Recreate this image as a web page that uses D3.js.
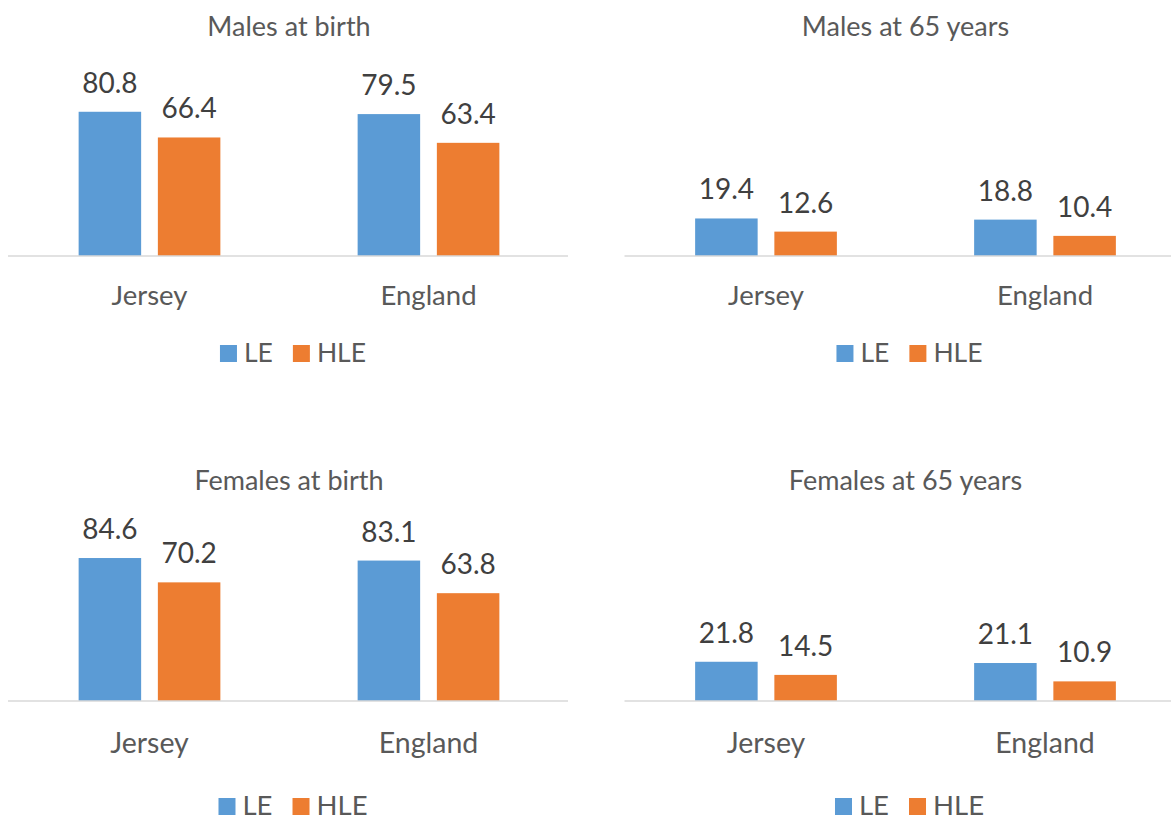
<!DOCTYPE html>
<html>
<head>
<meta charset="utf-8">
<script src="https://cdn.jsdelivr.net/npm/d3@7"></script>
<style>
  body { margin: 0; background: #fff; }
  svg text { font-family: Lato, "Open Sans", sans-serif; }
</style>
</head>
<body>
<svg class="charts" width="1171" height="816"></svg>
<script>
// data
var categories = ["Jersey", "England"];
var seriesNames = ["LE", "HLE"];
var panelTitles = ["Males at birth", "Males at 65 years", "Females at birth", "Females at 65 years"];
var leValues  = [[80.8, 79.5], [19.4, 18.8], [84.6, 83.1], [21.8, 21.1]];
var hleValues = [[66.4, 63.4], [12.6, 10.4], [70.2, 63.8], [14.5, 10.9]];

var colors = ["#5B9BD5", "#ED7D31"];
var textDark = "#404040", textGrey = "#595959";

// per panel layout: left edge of category axis, baseline, plot top (for 0-100)
var panels = [
  {x0: 10,    base: 256, top: 77.5,  titleY: 36,  catY: 305, legY: 362, fs: 26.5},
  {x0: 626.5, base: 256, top: 62.5,  titleY: 36,  catY: 305, legY: 362, fs: 26.5},
  {x0: 10,    base: 701, top: 532,   titleY: 490, catY: 753, legY: 815, fs: 27.5},
  {x0: 626.5, base: 701, top: 521,   titleY: 490, catY: 753, legY: 815, fs: 27.5}
];

var svg = d3.select("svg.charts");

panels.forEach(function(p, i){
  var g = svg.append("g");

  var x = d3.scaleBand()
      .domain(categories)
      .range([p.x0, p.x0 + 558])
      .paddingInner(0.492)
      .paddingOuter(0.246);

  var xs = d3.scaleBand()
      .domain(seriesNames)
      .range([0, x.bandwidth()])
      .paddingInner(0.211);

  var y = d3.scaleLinear()
      .domain([0, 100])
      .range([p.base, p.top]);

  var rows = [];
  categories.forEach(function(c, j){
    rows.push({cat: c, s: "LE", v: leValues[i][j]});
    rows.push({cat: c, s: "HLE", v: hleValues[i][j]});
  });

  g.selectAll("rect.bar")
    .data(rows)
    .enter().append("rect")
    .attr("class", "bar")
    .attr("x", function(d){ return x(d.cat) + xs(d.s); })
    .attr("width", xs.bandwidth())
    .attr("y", function(d){ return y(d.v); })
    .attr("height", function(d){ return y(0) - y(d.v); })
    .attr("fill", function(d){ return colors[seriesNames.indexOf(d.s)]; });

  g.selectAll("text.lbl")
    .data(rows)
    .enter().append("text")
    .attr("class", "lbl")
    .attr("x", function(d){ return x(d.cat) + xs(d.s) + xs.bandwidth()/2; })
    .attr("y", function(d){ return y(d.v) - 19; })
    .attr("text-anchor", "middle")
    .attr("font-size", 28)
    .attr("fill", textDark)
    .text(function(d){ return d.v.toFixed(1); });

  // category axis: line only, no ticks
  var axis = g.append("g")
      .attr("transform", "translate(0," + p.base + ")")
      .call(d3.axisBottom(x).tickSize(0).tickPadding(0));
  axis.select(".domain").attr("stroke", "#D9D9D9").attr("stroke-width", 1.5)
      .attr("d", "M" + (p.x0 - 2) + ",0H" + (p.x0 + 558));
  axis.selectAll(".tick text")
      .attr("y", p.catY - p.base)
      .attr("dy", 0)
      .attr("font-family", "Lato")
      .attr("font-size", p.fs + 1)
      .attr("fill", textGrey);

  var cx = p.x0 + 279;
  g.append("text")
    .attr("x", cx)
    .attr("y", p.titleY)
    .attr("text-anchor", "middle")
    .attr("font-size", 27)
    .attr("fill", textGrey)
    .text(panelTitles[i]);

  // legend
  var leg = g.append("g");
  var off = 0;
  seriesNames.forEach(function(s, k){
    leg.append("rect")
      .attr("x", off).attr("y", p.legY - 17)
      .attr("width", 17).attr("height", 17)
      .attr("fill", colors[k]);
    var t = leg.append("text")
      .attr("x", off + 24).attr("y", p.legY)
      .attr("font-size", p.fs)
      .attr("fill", textGrey)
      .text(s);
    off += 24 + t.node().getComputedTextLength() + 20;
  });
  off -= 20;
  leg.attr("transform", "translate(" + (cx + 4 - off/2) + ",0)");
});
</script>
</body>
</html>
